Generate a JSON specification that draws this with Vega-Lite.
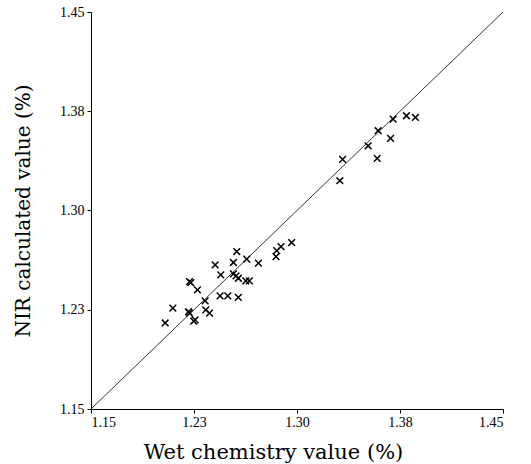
{
  "$schema": "https://vega.github.io/schema/vega-lite/v6.json",
  "width": 412,
  "height": 397,
  "autosize": {"type": "none"},
  "padding": {"left": 91, "top": 12, "right": 28, "bottom": 55},
  "background": "white",
  "config": {
    "view": {"stroke": null},
    "font": "DejaVu Serif",
    "axis": {
      "grid": false,
      "domainColor": "black",
      "domainWidth": 1,
      "tickColor": "black",
      "tickSize": 4,
      "labelFont": "Liberation Serif",
      "labelFontSize": 14,
      "labelColor": "black",
      "titleFont": "DejaVu Serif",
      "titleFontSize": 20,
      "titleFontWeight": "normal",
      "titleColor": "black"
    }
  },
  "layer": [
    {
      "data": {"values": [{"wet": 1.15, "nir": 1.15}, {"wet": 1.45, "nir": 1.45}]},
      "mark": {"type": "line", "color": "black", "strokeWidth": 0.8},
      "encoding": {
        "x": {"field": "wet", "type": "quantitative"},
        "y": {"field": "nir", "type": "quantitative"}
      }
    },
    {
      "data": {"values": [
        {"wet": 1.204, "nir": 1.215},
        {"wet": 1.2096, "nir": 1.2262},
        {"wet": 1.2217, "nir": 1.2224},
        {"wet": 1.2210, "nir": 1.2235},
        {"wet": 1.2258, "nir": 1.2174},
        {"wet": 1.2248, "nir": 1.2164},
        {"wet": 1.2217, "nir": 1.2463},
        {"wet": 1.2227, "nir": 1.2455},
        {"wet": 1.2275, "nir": 1.2400},
        {"wet": 1.2331, "nir": 1.2317},
        {"wet": 1.2336, "nir": 1.2249},
        {"wet": 1.2363, "nir": 1.2224},
        {"wet": 1.2404, "nir": 1.2589},
        {"wet": 1.2445, "nir": 1.2514},
        {"wet": 1.2440, "nir": 1.2355},
        {"wet": 1.2496, "nir": 1.2355},
        {"wet": 1.2537, "nir": 1.2607},
        {"wet": 1.2561, "nir": 1.2690},
        {"wet": 1.2537, "nir": 1.2521},
        {"wet": 1.2556, "nir": 1.2506},
        {"wet": 1.2573, "nir": 1.2488},
        {"wet": 1.2573, "nir": 1.2343},
        {"wet": 1.2634, "nir": 1.2632},
        {"wet": 1.2627, "nir": 1.2468},
        {"wet": 1.2653, "nir": 1.2468},
        {"wet": 1.2719, "nir": 1.2602},
        {"wet": 1.2847, "nir": 1.2652},
        {"wet": 1.2852, "nir": 1.2697},
        {"wet": 1.2884, "nir": 1.2727},
        {"wet": 1.2961, "nir": 1.2758},
        {"wet": 1.3312, "nir": 1.3225},
        {"wet": 1.3332, "nir": 1.3386},
        {"wet": 1.3518, "nir": 1.3489},
        {"wet": 1.3584, "nir": 1.3394},
        {"wet": 1.3591, "nir": 1.3603},
        {"wet": 1.3681, "nir": 1.3545},
        {"wet": 1.3700, "nir": 1.3691},
        {"wet": 1.3797, "nir": 1.3716},
        {"wet": 1.3862, "nir": 1.3703}
      ]},
      "mark": {
        "type": "point",
        "shape": "M-1,-1L1,1M-1,1L1,-1",
        "filled": false,
        "stroke": "black",
        "strokeWidth": 1.5,
        "size": 45,
        "opacity": 1
      },
      "encoding": {
        "x": {
          "field": "wet",
          "type": "quantitative",
          "scale": {"domain": [1.15, 1.45], "nice": false, "zero": false},
          "axis": {
            "title": "Wet chemistry value (%)",
            "values": [1.15, 1.225, 1.3, 1.375, 1.45],
            "labelExpr": "datum.value == 1.225 ? '1.23' : datum.value == 1.375 ? '1.38' : format(datum.value, '.2f')",
            "labelFlush": true,
            "labelPadding": 2,
            "titleFontSize": 21,
            "titlePadding": 12,
            "titleX": 182
          }
        },
        "y": {
          "field": "nir",
          "type": "quantitative",
          "scale": {"domain": [1.15, 1.45], "nice": false, "zero": false},
          "axis": {
            "title": "NIR calculated value (%)",
            "values": [1.15, 1.225, 1.3, 1.375, 1.45],
            "labelExpr": "datum.value == 1.225 ? '1.23' : datum.value == 1.375 ? '1.38' : format(datum.value, '.2f')",
            "labelPadding": 3,
            "titlePadding": 26
          }
        }
      }
    }
  ]
}
